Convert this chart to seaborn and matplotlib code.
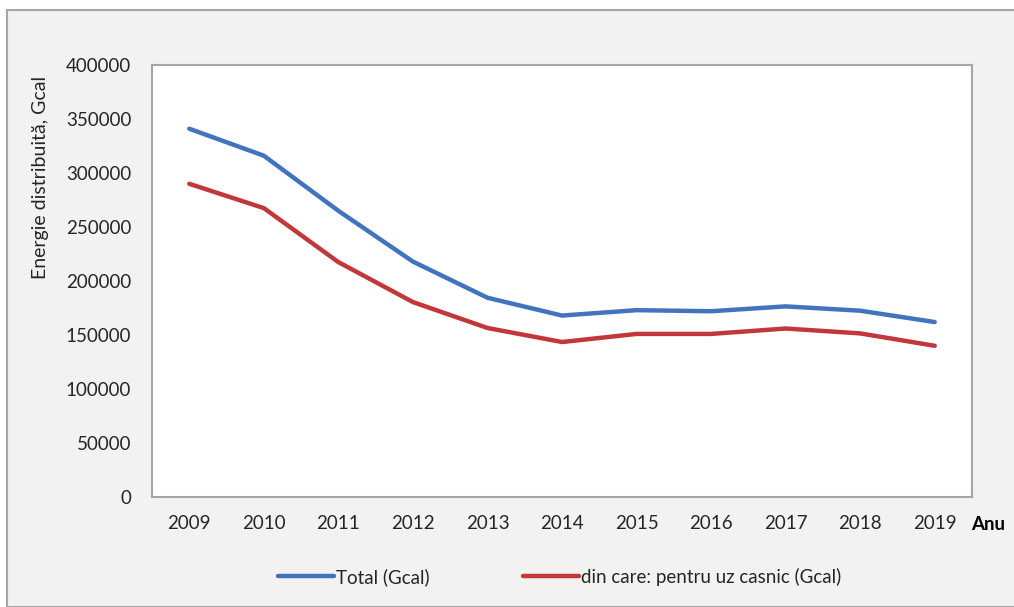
import matplotlib
matplotlib.use("Agg")
import matplotlib.pyplot as plt
from matplotlib.patches import Rectangle
import seaborn as sns
import pandas as pd

years = [2009, 2010, 2011, 2012, 2013, 2014, 2015, 2016, 2017, 2018, 2019]
total = [341000, 316000, 265000, 218000, 184500, 168000, 173000, 172000, 176500, 172500, 162000]
casnic = [290000, 267500, 217500, 180500, 156500, 143500, 151000, 151000, 156000, 151500, 140000]
series_names = ["Total (Gcal)", "din care: pentru uz casnic (Gcal)"]
colors = ["#4273bf", "#c2373a"]

sns.set_theme(style="white")
plt.rcParams["font.family"] = ["Lato", "DejaVu Sans"]

df = pd.DataFrame({
    "idx": list(range(len(years))) * 2,
    "val": total + casnic,
    "serie": [series_names[0]] * len(years) + [series_names[1]] * len(years),
})

W, H = 1014, 607
FS = 13.5
fig = plt.figure(figsize=(W / 100, H / 100), dpi=100, facecolor="white")
bg = Rectangle((7 / W, 0), 1.2, (H - 10) / H, transform=fig.transFigure,
               facecolor="#f2f2f2", edgecolor="#a6a6a6", linewidth=1.5, zorder=-10)
fig.add_artist(bg)

ax = fig.add_axes([152 / W, (H - 497) / H, (972 - 152) / W, (497 - 65) / H])
ax.set_zorder(1)
ax.set_facecolor("white")
sns.lineplot(data=df, x="idx", y="val", hue="serie", palette=colors, linewidth=3.2,
             ax=ax, legend=True)

ax.set_xlim(-0.5, len(years) - 0.5)
ax.set_ylim(0, 400000)
ax.set_yticks(range(0, 400001, 50000))
ax.set_yticklabels([str(v) for v in range(0, 400001, 50000)], fontsize=FS, color="#262626")
ax.set_xticks(range(len(years)))
ax.set_xticklabels([str(y) for y in years], fontsize=FS, color="#262626")
ax.tick_params(axis="x", pad=13, length=0)
ax.tick_params(axis="y", pad=15, length=0)
for s in ax.spines.values():
    s.set_color("#a6a6a6")
    s.set_linewidth(1.5)
ax.set_xlabel("")
ax.set_ylabel("Energie distribuită, Gcal", fontsize=14, color="#262626")
ax.yaxis.set_label_coords(-0.125, 0.74)

fig.text(971 / W, (H - 525) / H, "Anu", fontsize=FS, fontweight="bold", color="black",
         ha="left", va="center")

leg = ax.legend(loc="center", bbox_to_anchor=(0.497, -0.185), ncol=2, frameon=False,
                fontsize=FS, handlelength=3.0, columnspacing=5.0, handletextpad=0.1)

fig.savefig("out.png", dpi=100, facecolor=fig.get_facecolor())
